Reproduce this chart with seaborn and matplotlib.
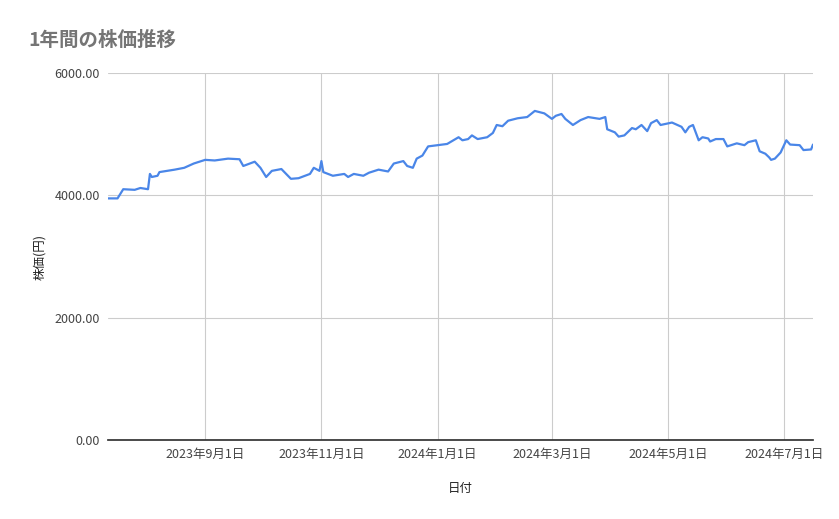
import matplotlib
matplotlib.use("Agg")
import matplotlib.pyplot as plt
import matplotlib.dates as mdates
import seaborn as sns
import pandas as pd

dates = ["2023-07-12","2023-07-17","2023-07-20","2023-07-26","2023-07-29","2023-08-02","2023-08-03","2023-08-04",
"2023-08-07","2023-08-08","2023-08-16","2023-08-21","2023-08-26","2023-09-01","2023-09-06","2023-09-13","2023-09-19",
"2023-09-21","2023-09-27","2023-09-30","2023-10-03","2023-10-06","2023-10-11","2023-10-16","2023-10-20","2023-10-26",
"2023-10-28","2023-10-31","2023-11-01","2023-11-02","2023-11-07","2023-11-13","2023-11-15","2023-11-18","2023-11-23",
"2023-11-26","2023-12-01","2023-12-06","2023-12-09","2023-12-14","2023-12-16","2023-12-19","2023-12-21","2023-12-24",
"2023-12-27","2024-01-01","2024-01-06","2024-01-12","2024-01-14","2024-01-17","2024-01-19","2024-01-22","2024-01-27",
"2024-01-30","2024-02-01","2024-02-04","2024-02-07","2024-02-12","2024-02-17","2024-02-21","2024-02-26","2024-03-01",
"2024-03-03","2024-03-06","2024-03-08","2024-03-12","2024-03-16","2024-03-20","2024-03-26","2024-03-29","2024-03-30",
"2024-04-03","2024-04-05","2024-04-08","2024-04-12","2024-04-14","2024-04-17","2024-04-20","2024-04-22","2024-04-25",
"2024-04-27","2024-05-03","2024-05-08","2024-05-10","2024-05-12","2024-05-14","2024-05-17","2024-05-19","2024-05-22",
"2024-05-23","2024-05-26","2024-05-30","2024-06-01","2024-06-06","2024-06-10","2024-06-12","2024-06-16","2024-06-18",
"2024-06-21","2024-06-23","2024-06-24","2024-06-26","2024-06-29","2024-07-02","2024-07-04","2024-07-09","2024-07-11",
"2024-07-15","2024-07-16"]
prices = [3950,3950,4100,4090,4120,4100,4350,4300,4320,4380,4420,4450,4520,4580,4570,4600,4590,4480,4550,4450,4300,
4400,4430,4270,4280,4350,4450,4400,4560,4380,4320,4350,4300,4350,4320,4370,4420,4390,4520,4560,4480,4450,4600,4650,
4800,4820,4840,4950,4900,4920,4980,4920,4950,5020,5150,5130,5220,5260,5280,5380,5340,5250,5300,5330,5250,5150,5230,
5280,5250,5280,5080,5030,4960,4980,5100,5080,5150,5050,5180,5230,5150,5190,5120,5030,5120,5150,4900,4950,4930,4880,
4920,4920,4800,4850,4820,4870,4900,4720,4680,4620,4580,4600,4700,4900,4830,4820,4740,4750,4830]

df = pd.DataFrame({"日付": pd.to_datetime(dates), "株価": prices})

sns.set_theme(style="white")
plt.rcParams['font.family'] = ['Noto Sans CJK JP', 'DejaVu Sans']

fig = plt.figure(figsize=(8.39, 5.19), dpi=100)
ax = fig.add_axes([108/839, 1-440/519, (813-108)/839, (440-73)/519])
sns.lineplot(data=df, x="日付", y="株価", ax=ax, color="#4a86e8", linewidth=1.6)

ax.set_xlim(pd.Timestamp("2023-07-12"), pd.Timestamp("2024-07-16"))
ax.set_ylim(0, 6000)
ax.set_yticks([0, 2000, 4000, 6000])
ax.yaxis.set_major_formatter(matplotlib.ticker.FuncFormatter(lambda v, p: f"{v:.2f}"))
ticks = pd.to_datetime(["2023-09-01","2023-11-01","2024-01-01","2024-03-01","2024-05-01","2024-07-01"])
ax.set_xticks(ticks)
ax.set_xticklabels([f"{t.year}年{t.month}月{t.day}日" for t in ticks])
ax.grid(True, color="#cccccc", linewidth=0.8)
for s in ["top", "right", "left"]:
    ax.spines[s].set_visible(False)
ax.spines["bottom"].set_color("#333333")
ax.tick_params(axis="both", length=0, labelsize=9, colors="#444444", pad=6)
ax.set_xlabel("日付", fontsize=9, color="#222222", labelpad=15)
ax.set_ylabel("株価(円)", fontsize=9, color="#222222", labelpad=6)
fig.text(28/839, 1-40/519, "1年間の株価推移", fontsize=14, color="#757575", fontweight="bold", va="center")
fig.savefig("out.png", dpi=100, facecolor="white")
